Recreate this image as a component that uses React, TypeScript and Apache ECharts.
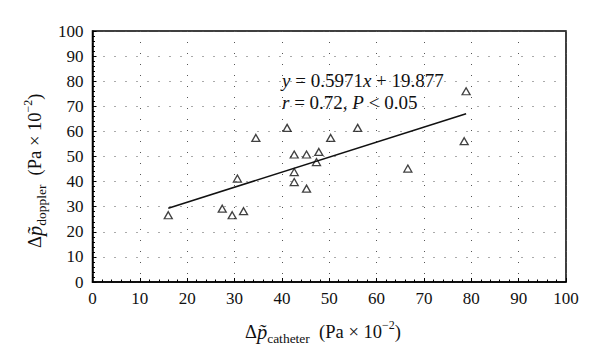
import React, { useEffect, useRef } from "react";
import * as echarts from "echarts";

// ---- data ----
const catheterX = [16, 27.4, 29.5, 31.9, 30.6, 34.5, 41.1, 42.6, 45.2, 47.8, 47.3, 42.6, 42.6, 45.2, 50.3, 56.0, 66.6, 78.5, 78.9];
const dopplerY = [26.6, 29.2, 26.6, 28.2, 41.2, 57.4, 61.4, 50.8, 50.8, 51.8, 47.8, 43.8, 39.8, 37.2, 57.4, 61.4, 45.2, 56.1, 76.0];
const fitLineX = [16, 78.9];
const fitLineY = [29.4, 67.0];
const axisMin = 0;
const axisMax = 100;
const axisStep = 10;

const FONT = "Liberation Serif";

export default function App() {
  const ref = useRef<HTMLDivElement>(null);
  useEffect(() => {
    if (!ref.current) return;
    const chart = echarts.init(ref.current, null, { renderer: "svg" });
    const axisCommon = {
      type: "value" as const,
      min: axisMin,
      max: axisMax,
      interval: axisStep,
      axisLine: { show: true, lineStyle: { color: "#000", width: 1.5 } },
      axisTick: { show: true, inside: true, length: 4, lineStyle: { color: "#000", width: 1 } },
      minorTick: { show: true, splitNumber: 5, length: 2.5, lineStyle: { color: "#000", width: 1 } },
      splitLine: { show: true, lineStyle: { color: "#555", width: 1, type: [1, 10] } },
      axisLabel: { color: "#111", fontFamily: FONT, fontSize: 17, margin: 8 },
    };
    const annFont = 19;
    const rich = {
      n: { fontFamily: FONT, fontSize: annFont, fill: "#111" },
      i: { fontStyle: "italic", fontFamily: FONT, fontSize: annFont, fill: "#111" },
    };
    const nameRich = {
      n: { fontFamily: FONT, fontSize: 18.5, lineHeight: 26, verticalAlign: "middle", fill: "#111" },
      ip: { fontStyle: "italic", fontFamily: FONT, fontSize: 20.5, lineHeight: 26, verticalAlign: "middle", fill: "#111" },
      sub: { fontFamily: FONT, fontSize: 13.5, lineHeight: 26, verticalAlign: "bottom", fill: "#111" },
      sup: { fontFamily: FONT, fontSize: 12, lineHeight: 26, verticalAlign: "top", fill: "#111" },
    };
    chart.setOption({
      animation: false,
      backgroundColor: "#fff",
      grid: {
        left: 92.5,
        right: 34,
        top: 31,
        bottom: 80,
        show: true,
        borderColor: "#000",
        borderWidth: 1.5,
        backgroundColor: "transparent",
      },
      xAxis: { ...axisCommon },
      yAxis: { ...axisCommon, axisLabel: { ...axisCommon.axisLabel, margin: 9 } },
      series: [
        {
          type: "line",
          data: fitLineX.map((x, i) => [x, fitLineY[i]]),
          showSymbol: false,
          symbol: "none",
          lineStyle: { color: "#111", width: 1.5 },
          z: 2,
        },
        {
          type: "scatter",
          data: catheterX.map((x, i) => [x, dopplerY[i]]),
          symbol: "triangle",
          symbolSize: [8, 7],
          itemStyle: { color: "rgba(255,255,255,0)", borderColor: "#111", borderWidth: 1.3 },
          z: 3,
        },
      ],
      graphic: [
        {
          type: "text",
          left: 282,
          top: 71,
          style: {
            text: "{i|y}{n| = 0.5971}{i|x}{n| + 19.877}",
            rich,
            fontFamily: FONT,
            fontSize: annFont,
            fill: "#111",
          },
          z: 10,
        },
        {
          type: "text",
          left: 282,
          top: 93,
          style: {
            text: "{i|r}{n| = 0.72, }{i|P}{n| < 0.05}",
            rich,
            fontFamily: FONT,
            fontSize: annFont,
            fill: "#111",
          },
          z: 10,
        },
        {
          type: "text",
          left: 245,
          top: 319,
          style: {
            text: "{n|Δ}{ip|p\u0303}{sub|catheter}{n|  (Pa × 10}{sup|−2}{n|)}",
            fontFamily: FONT,
            fontSize: 18.5,
            fill: "#111",
            rich: nameRich,
          },
        },
        {
          type: "text",
          x: 22,
          y: 248,
          rotation: Math.PI / 2,
          style: {
            text: "{n|Δ}{ip|p\u0303}{sub|doppler}{n|  (Pa × 10}{sup|−2}{n|)}",
            fontFamily: FONT,
            fontSize: 18.5,
            fill: "#111",
            rich: nameRich,
          },
        },
      ],
    });
    return () => chart.dispose();
  }, []);
  return (
    <div
      ref={ref}
      style={{ position: "fixed", left: 0, top: 0, width: 600, height: 362, background: "#fff" }}
    />
  );
}
